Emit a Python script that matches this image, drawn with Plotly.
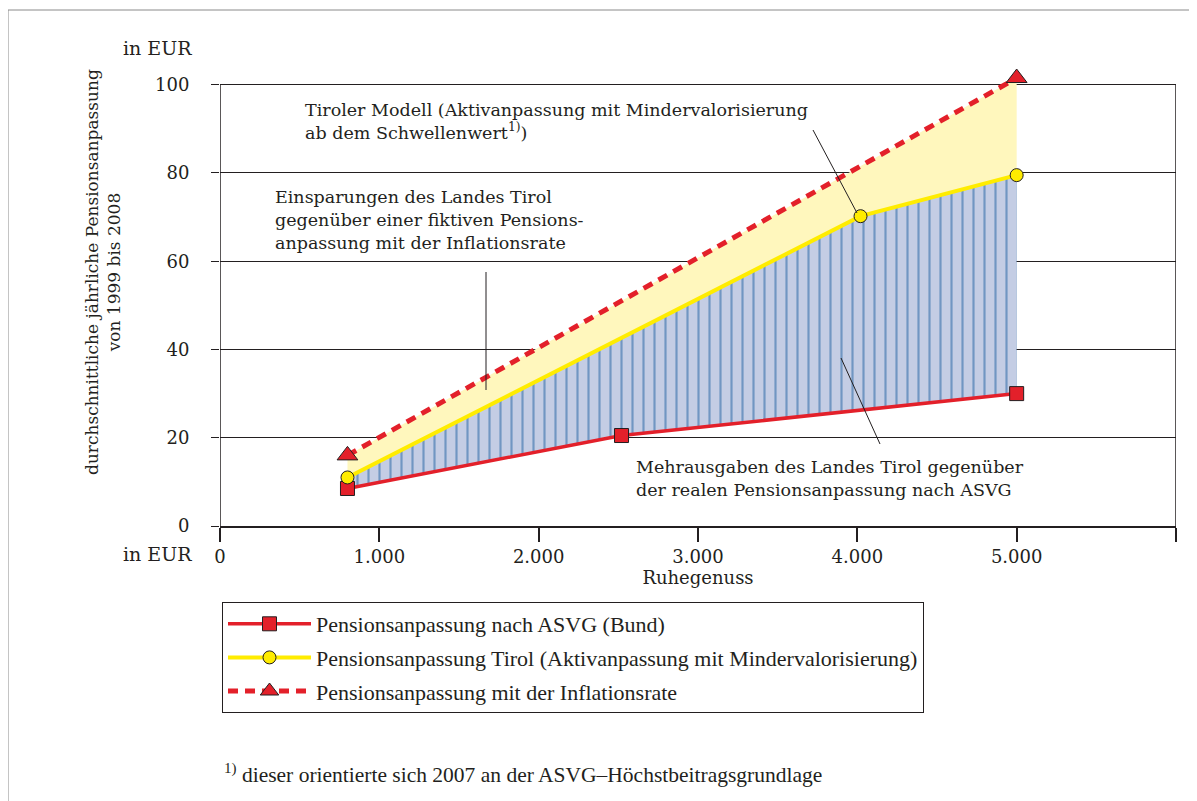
import plotly.graph_objects as go

# Ruhegenuss (EUR) and average yearly pension adjustment (EUR), 1999-2008
asvg_x = [800, 2520, 5000]
asvg_y = [8.5, 20.5, 30.0]
tirol_x = [800, 4020, 5000]
tirol_y = [11.0, 70.2, 79.5]
infl_x = [800, 5000]
infl_y = [16.0, 101.5]

x_ticks = [0, 1000, 2000, 3000, 4000, 5000, 6000]
x_ticktext = ["0", "1.000", "2.000", "3.000", "4.000", "5.000", "6.000"]
y_ticks = [0, 20, 40, 60, 80, 100]

names = ["Pensionsanpassung nach ASVG (Bund)",
         "Pensionsanpassung Tirol (Aktivanpassung mit Mindervalorisierung)",
         "Pensionsanpassung mit der Inflationsrate"]

FONT = "DejaVu Serif"
FONT_NARROW = "Liberation Serif"
RED = "#e3202a"
YELLOW = "#ffec00"
INK = "#231f20"

# y range goes a bit above 100 so the last triangle marker stays visible
Y_TOP = 104
# page has an 8px body margin, so the figure is drawn 8px smaller / shifted
OFF = 8
W, H = 1197 - OFF, 801 - OFF
top_ref = 526 - (526 - 85) * Y_TOP / 100
L, T = 220 - OFF, round(top_ref - OFF)
R = W - (1176 - OFF)
B = H - (526 - OFF)
pw, ph = W - L - R, H - T - B


def px(x, y):
    # reference pixel position -> paper coords
    return (x - OFF - L) / pw, (H - B - (y - OFF)) / ph


fig = go.Figure()

# yellow band: inflation vs Tirol
fig.add_trace(go.Scatter(x=tirol_x, y=tirol_y, mode="lines", line=dict(width=0),
                         showlegend=False, hoverinfo="skip"))
fig.add_trace(go.Scatter(x=infl_x, y=infl_y, mode="lines", line=dict(width=0),
                         fill="tonexty", fillcolor="#fff7bd",
                         showlegend=False, hoverinfo="skip"))
# hatched blue band: Tirol vs ASVG
fig.add_trace(go.Scatter(x=asvg_x, y=asvg_y, mode="lines", line=dict(width=0),
                         showlegend=False, hoverinfo="skip"))
fig.add_trace(go.Scatter(x=tirol_x, y=tirol_y, mode="lines", line=dict(width=0),
                         fill="tonexty", fillcolor="#c4cde4",
                         fillpattern=dict(shape="|", fgcolor="#1d5f9f", bgcolor="#c4cde4",
                                          size=11, solidity=0.2),
                         showlegend=False, hoverinfo="skip"))

fig.add_trace(go.Scatter(x=asvg_x, y=asvg_y, mode="lines+markers", name=names[0],
                         legendgroup="a",
                         line=dict(color=RED, width=3.5),
                         marker=dict(symbol="square", size=14, color=RED,
                                     line=dict(color=INK, width=1))))
fig.add_trace(go.Scatter(x=tirol_x, y=tirol_y, mode="lines+markers", name=names[1],
                         legendgroup="b",
                         line=dict(color=YELLOW, width=4),
                         marker=dict(symbol="circle", size=13, color=YELLOW,
                                     line=dict(color=INK, width=1))))
fig.add_trace(go.Scatter(x=infl_x, y=infl_y, mode="lines+markers", name=names[2],
                         legendgroup="c",
                         line=dict(color=RED, width=5, dash="10px,7px"),
                         marker=dict(symbol="triangle-up", size=18, color=RED,
                                     line=dict(color=INK, width=1))))

# right border of the chart box at 6000
fig.add_shape(type="line", xref="x", yref="y", x0=6000, x1=6000, y0=0, y1=100,
              line=dict(color=INK, width=1.5))

# leader lines
for (x0, y0), (x1, y1) in [((813, 130), (857, 213)),
                           ((486, 272), (486, 390)),
                           ((841, 358), (880, 444))]:
    a0, b0 = px(x0, y0)
    a1, b1 = px(x1, y1)
    fig.add_shape(type="line", xref="paper", yref="paper", x0=a0, y0=b0, x1=a1, y1=b1,
                  line=dict(color=INK, width=1))

# outer frame
f0 = px(8, 10)
f1 = px(1215, 820)
fig.add_shape(type="rect", xref="paper", yref="paper", x0=f0[0], y0=f0[1], x1=f1[0], y1=f1[1],
              line=dict(color="#8a8a8a", width=1), layer="below")

notes = [
    (303, 121, "left", "Tiroler Modell (Aktivanpassung mit Mindervalorisierung<br>"
                       "ab dem Schwellenwert<sup>1)</sup>)", 17.5, FONT),
    (273, 220, "left", "Einsparungen des Landes Tirol<br>gegenüber einer fiktiven Pensions-<br>"
                       "anpassung mit der Inflationsrate", 17.5, FONT),
    (634, 478, "left", "Mehrausgaben des Landes Tirol gegenüber<br>"
                       "der realen Pensionsanpassung nach ASVG", 17.5, FONT),
    (194, 48, "right", "in EUR", 19, FONT),
    (194, 554, "right", "in EUR", 19, FONT),
    (222, 773, "left", "<sup>1)</sup> dieser orientierte sich 2007 an der ASVG–Höchstbeitragsgrundlage",
     21.5, FONT_NARROW),
]
for x, y, anchor, text, size, fam in notes:
    a, b = px(x, y)
    fig.add_annotation(x=a, y=b, xref="paper", yref="paper", text=text, showarrow=False,
                       xanchor=anchor, yanchor="middle", align="left",
                       font=dict(family=fam, size=size, color=INK))

a, b = px(103, 272)
fig.add_annotation(x=a, y=b, xref="paper", yref="paper", textangle=-90, showarrow=False,
                   xanchor="center", yanchor="middle",
                   text="durchschnittliche jährliche Pensionsanpassung<br>von 1999 bis 2008",
                   font=dict(family=FONT, size=17, color=INK))

lx, ly = px(222, 602)
fig.update_layout(
    width=W, height=H, margin=dict(l=L, r=R, t=T, b=B),
    paper_bgcolor="white", plot_bgcolor="white",
    font=dict(family=FONT, size=18, color=INK),
    xaxis=dict(range=[0, 6000], tickvals=x_ticks, ticktext=x_ticktext,
               showgrid=False, zeroline=False, showline=True, mirror=False,
               linecolor=INK, linewidth=1.5, ticks="outside", ticklen=14,
               tickcolor=INK, tickwidth=1.5,
               title=dict(text="Ruhegenuss", standoff=4, font=dict(size=18))),
    yaxis=dict(range=[0, Y_TOP], tickvals=y_ticks, showgrid=True, gridcolor=INK,
               gridwidth=1, zeroline=False, showline=False,
               ticks="outside", ticklen=8,
               tickcolor=INK, ticklabelstandoff=18),
    legend=dict(x=lx, y=ly, xanchor="left", yanchor="top", bordercolor=INK,
                borderwidth=1, tracegroupgap=2, itemwidth=83,
                font=dict(family=FONT_NARROW, size=22), bgcolor="white"),
    showlegend=True,
)

# left axis line only up to 100
fig.add_shape(type="line", xref="x", yref="y", x0=0, x1=0, y0=0, y1=100,
              line=dict(color=INK, width=1.5))

fig.write_html("out.html")
